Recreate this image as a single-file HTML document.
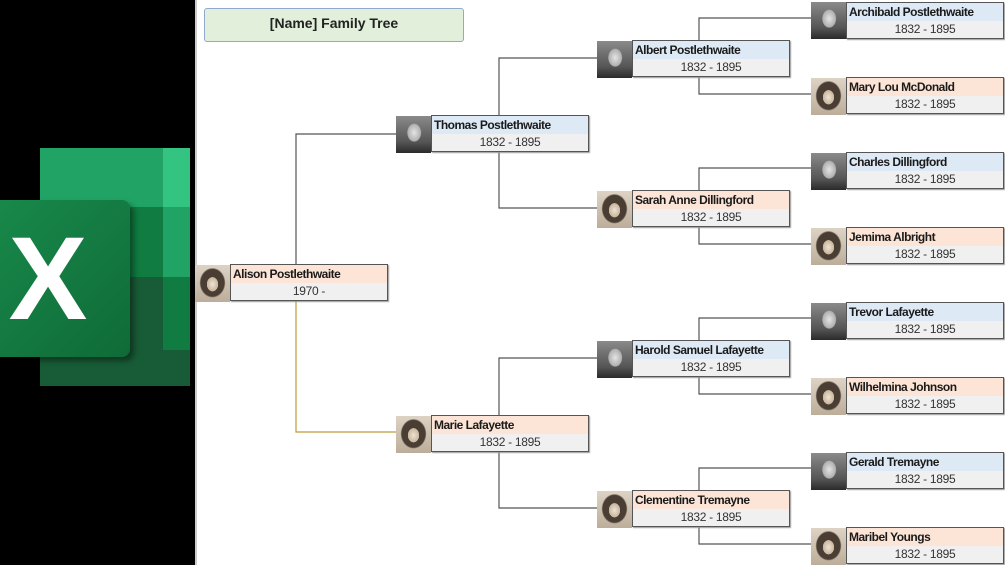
<!DOCTYPE html>
<html><head><meta charset="utf-8"><style>
body{margin:0;width:1005px;height:565px;position:relative;overflow:hidden;background:#fff;font-family:"Liberation Sans",sans-serif}
.a{position:absolute}
.box{position:absolute;width:156px;height:35px;border:1px solid #555;background:#f0f0f0;box-shadow:1px 1px 1px #999}
.h{height:18px;line-height:19px;font-size:12px;font-weight:bold;color:#1a1a1a;padding-left:2px;letter-spacing:-0.5px;white-space:nowrap}
.d{height:17px;line-height:17px;font-size:12px;text-align:center;color:#333;letter-spacing:-0.3px}
.b .h{background:#dde9f5}.p .h{background:#fce4d6}
.ph{position:absolute;width:35px;height:37px}
.m{background:radial-gradient(ellipse 10px 13px at 52% 45%,#e4e4e4,#b0b0b0 65%,transparent 72%),linear-gradient(180deg,#8a8a8a,#555 70%,#2a2a2a)}
.f{background:radial-gradient(ellipse 8px 10px at 50% 52%,#eee3d4,#c8b59c 70%,transparent 72%),radial-gradient(ellipse 13px 15px at 50% 48%,#4a3e34,#4a3e34 90%,transparent 100%),linear-gradient(180deg,#ddd3c4,#bcae9a)}
</style></head><body>
<div class="a" style="left:0;top:0;width:195px;height:565px;background:#000"></div>
<div class="a" style="left:195px;top:0;width:2px;height:565px;background:#ccc"></div>
<div class="a" style="left:40px;top:148px;width:150px;height:59px;background:#21a366"></div>
<div class="a" style="left:40px;top:207px;width:150px;height:70px;background:#107c41"></div>
<div class="a" style="left:40px;top:277px;width:150px;height:109px;background:#185c37"></div>
<div class="a" style="left:163px;top:148px;width:27px;height:59px;background:#33c481"></div>
<div class="a" style="left:163px;top:207px;width:27px;height:70px;background:#21a366"></div>
<div class="a" style="left:163px;top:277px;width:27px;height:73px;background:#107c41"></div>
<div class="a" style="left:0;top:200px;width:130px;height:157px;background:linear-gradient(135deg,#18884a,#0f6b37);border-radius:0 8px 8px 0;box-shadow:4px 4px 6px rgba(0,0,0,.4)"></div>
<div class="a" style="left:0;top:215px;width:96px;text-align:center;color:#fff;font-weight:bold;font-size:118px;line-height:128px">X</div>
<div class="a" style="left:204px;top:8px;width:258px;height:32px;background:#e2efda;border:1px solid #8eaacc;border-radius:3px;text-align:center;line-height:29px;font-weight:bold;font-size:14px;color:#222">[Name] Family Tree</div>
<svg class="a" style="left:0;top:0" width="1005" height="565">
<g stroke="#555" stroke-width="1.2" fill="none">
<path d="M396 134H296V302"/>
<path d="M597 58H499V208H597"/><path d="M597 358H499V508H597"/>
<path d="M811 18H699V94H811"/><path d="M811 168H699V244H811"/><path d="M811 318H699V394H811"/><path d="M811 468H699V544H811"/>
</g>
<path d="M296 302V432H396" stroke="#c09a3a" stroke-width="1.2" fill="none"/>
</svg>
<div class="ph f" style="left:195px;top:265px"></div><div class="box p" style="left:230px;top:264px"><div class="h">Alison Postlethwaite</div><div class="d">1970 -</div></div>
<div class="ph m" style="left:396px;top:116px"></div><div class="box b" style="left:431px;top:115px"><div class="h">Thomas Postlethwaite</div><div class="d">1832 - 1895</div></div>
<div class="ph f" style="left:396px;top:416px"></div><div class="box p" style="left:431px;top:415px"><div class="h">Marie Lafayette</div><div class="d">1832 - 1895</div></div>
<div class="ph m" style="left:597px;top:41px"></div><div class="box b" style="left:632px;top:40px"><div class="h">Albert Postlethwaite</div><div class="d">1832 - 1895</div></div>
<div class="ph f" style="left:597px;top:191px"></div><div class="box p" style="left:632px;top:190px"><div class="h">Sarah Anne Dillingford</div><div class="d">1832 - 1895</div></div>
<div class="ph m" style="left:597px;top:341px"></div><div class="box b" style="left:632px;top:340px"><div class="h">Harold Samuel Lafayette</div><div class="d">1832 - 1895</div></div>
<div class="ph f" style="left:597px;top:491px"></div><div class="box p" style="left:632px;top:490px"><div class="h">Clementine Tremayne</div><div class="d">1832 - 1895</div></div>
<div class="ph m" style="left:811px;top:2px"></div><div class="box b" style="left:846px;top:2px"><div class="h">Archibald Postlethwaite</div><div class="d">1832 - 1895</div></div>
<div class="ph f" style="left:811px;top:78px"></div><div class="box p" style="left:846px;top:77px"><div class="h">Mary Lou McDonald</div><div class="d">1832 - 1895</div></div>
<div class="ph m" style="left:811px;top:153px"></div><div class="box b" style="left:846px;top:152px"><div class="h">Charles Dillingford</div><div class="d">1832 - 1895</div></div>
<div class="ph f" style="left:811px;top:228px"></div><div class="box p" style="left:846px;top:227px"><div class="h">Jemima Albright</div><div class="d">1832 - 1895</div></div>
<div class="ph m" style="left:811px;top:303px"></div><div class="box b" style="left:846px;top:302px"><div class="h">Trevor Lafayette</div><div class="d">1832 - 1895</div></div>
<div class="ph f" style="left:811px;top:378px"></div><div class="box p" style="left:846px;top:377px"><div class="h">Wilhelmina Johnson</div><div class="d">1832 - 1895</div></div>
<div class="ph m" style="left:811px;top:453px"></div><div class="box b" style="left:846px;top:452px"><div class="h">Gerald Tremayne</div><div class="d">1832 - 1895</div></div>
<div class="ph f" style="left:811px;top:528px"></div><div class="box p" style="left:846px;top:527px"><div class="h">Maribel Youngs</div><div class="d">1832 - 1895</div></div>
</body></html>
